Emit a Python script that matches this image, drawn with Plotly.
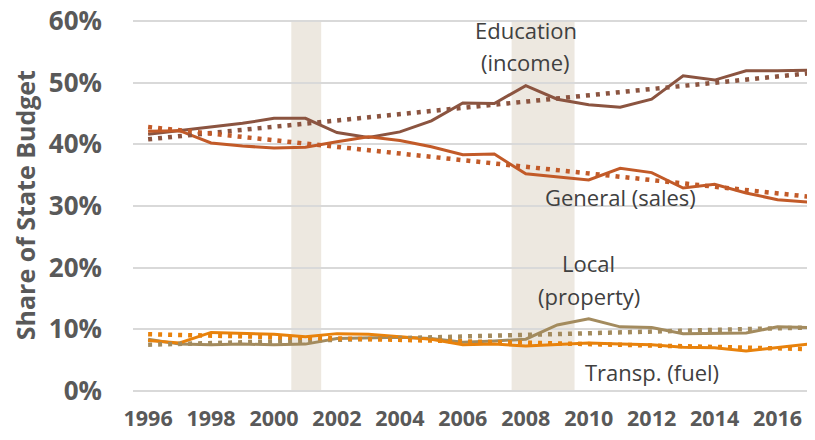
import plotly.graph_objects as go

years = list(range(1996, 2018))

education = [41.6, 42.2, 42.9, 43.4, 44.2, 44.2, 41.9, 41.1, 42.0, 43.8, 46.7,
             46.6, 49.5, 47.3, 46.4, 46.0, 47.3, 51.1, 50.4, 51.9, 51.9, 52.0]
general = [42.1, 42.2, 40.2, 39.7, 39.4, 39.5, 40.4, 41.2, 40.6, 39.6, 38.3,
           38.4, 35.2, 34.7, 34.2, 36.1, 35.4, 32.9, 33.5, 32.1, 31.0, 30.6]
local = [8.4, 7.6, 7.5, 7.6, 7.5, 7.6, 8.5, 8.6, 8.7, 8.5, 7.9,
         8.1, 8.4, 10.7, 11.7, 10.4, 10.3, 9.3, 9.3, 9.4, 10.4, 10.3]
transp = [8.2, 7.8, 9.5, 9.4, 9.2, 8.8, 9.3, 9.2, 8.8, 8.4, 7.5,
          7.6, 7.3, 7.6, 7.8, 7.6, 7.5, 7.1, 7.0, 6.5, 7.1, 7.6]

# trendline endpoints
trend_years = [1996, 2017]
education_trend = [40.8, 51.5]
general_trend = [42.8, 31.5]
local_trend = [7.5, 10.3]
transp_trend = [9.2, 6.8]

recessions = [(2000.55, 2001.5), (2007.55, 2009.55)]

x_ticks = list(range(1996, 2018, 2))
y_ticks = [0, 10, 20, 30, 40, 50, 60]
y_tick_labels = [f"{v}%" for v in y_ticks]

colors = {
    "education": "#8B5440",
    "general": "#C25A28",
    "local": "#A38B5E",
    "transp": "#E8820C",
}

fig = go.Figure()

series = [
    ("Education (income)", education, education_trend, colors["education"]),
    ("General (sales)", general, general_trend, colors["general"]),
    ("Local (property)", local, local_trend, colors["local"]),
    ("Transp. (fuel)", transp, transp_trend, colors["transp"]),
]

for name, vals, tr, col in series:
    fig.add_trace(go.Scatter(x=years, y=vals, mode="lines", name=name,
                             line=dict(color=col, width=3), showlegend=False))
for name, vals, tr, col in series:
    fig.add_trace(go.Scatter(x=trend_years, y=tr, mode="lines", name=name + " trend",
                             line=dict(color=col, width=4.5, dash="4px,6px"),
                             showlegend=False))

for x0, x1 in recessions:
    fig.add_shape(type="rect", xref="x", yref="y", x0=x0, x1=x1, y0=0, y1=60,
                  fillcolor="#EDE8E0", line=dict(width=0), layer="below")

label_font = dict(family="Open Sans", size=22, color="#404040")
labels = [
    ("Education", 2008.0, 58.5),
    ("(income)", 2008.0, 53.3),
    ("General (sales)", 2011.0, 31.4),
    ("Local", 2010.0, 20.7),
    ("(property)", 2010.0, 15.4),
    ("Transp. (fuel)", 2012.0, 3.1),
]
for txt, xv, yv in labels:
    fig.add_annotation(x=xv, y=yv, xref="x", yref="y", text=txt, showarrow=False,
                       font=label_font, xanchor="center", yanchor="middle")

fig.add_annotation(x=-0.158, y=0.5, xref="paper", yref="paper",
                   text="<b>Share of State Budget</b>", textangle=-90, showarrow=False,
                   font=dict(family="Open Sans", size=25, color="#595959"),
                   xanchor="center", yanchor="middle")

fig.update_xaxes(range=[1995.52, 2017.19], tickvals=x_ticks, ticktext=[str(t) for t in x_ticks],
                 showgrid=False, zeroline=False, showline=False, ticks="",
                 tickfont=dict(family="Open Sans", size=21.5, color="#595959", weight="bold"),
                 ticklabelstandoff=12, ticklabeloverflow="allow", automargin=False)
fig.update_yaxes(range=[0, 60.3], tickvals=y_ticks, ticktext=y_tick_labels,
                 showgrid=True, gridcolor="#D9D9D9", gridwidth=1.5,
                 zeroline=True, zerolinecolor="#D9D9D9", zerolinewidth=1.5,
                 showline=False, ticks="",
                 tickfont=dict(family="Open Sans", size=26, color="#595959", weight="bold"),
                 ticklabelstandoff=30, ticklabeloverflow="allow", automargin=False)

# page body has an 8px default margin; compensate so the plot area lands where the reference has it
fig.update_layout(width=807, height=432, margin=dict(l=125, r=0, t=11, b=49),
                  plot_bgcolor="white", paper_bgcolor="white")

fig.write_html("out.html")
